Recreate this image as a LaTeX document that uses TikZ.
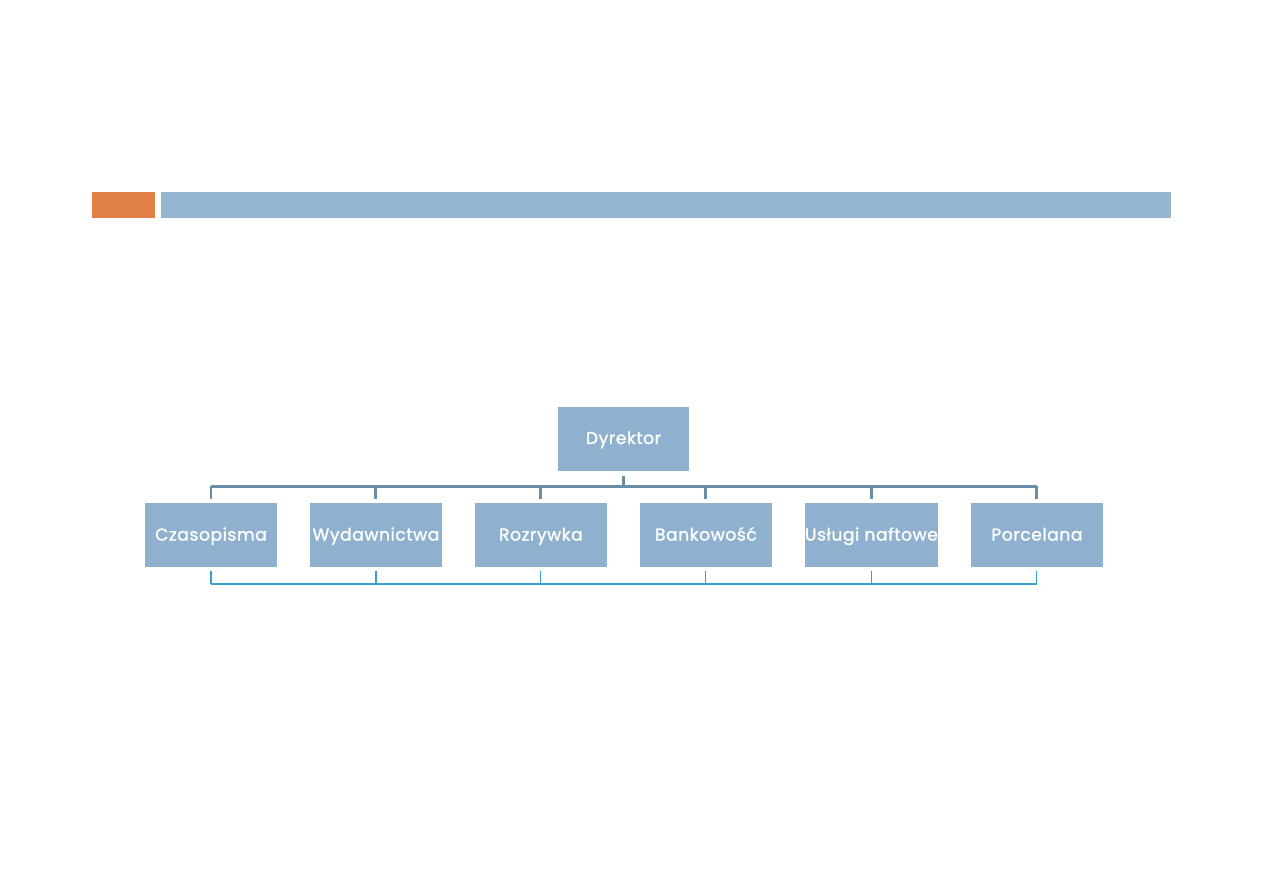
\documentclass[tikz,border=0pt]{standalone}
\usepackage{fontspec}
\setmainfont{Poppins}
\usetikzlibrary{positioning}
\definecolor{barorange}{HTML}{E08046}
\definecolor{barblue}{HTML}{94B6D2}
\definecolor{boxfill}{HTML}{8FB1CF}
\definecolor{topline}{HTML}{6A8EA8}
\definecolor{botline}{HTML}{3A9FC9}
\tikzset{
  unit/.style={
    fill=boxfill,
    text=white,
    inner sep=0pt,
    outer sep=0pt,
    minimum width=2.64cm,
    minimum height=1.28cm,
    text height=1.5ex,
    text depth=0.35ex,
    align=center,
    font=\fontsize{9.8}{11}\selectfont\addfontfeatures{LetterSpace=3,FakeBold=1.2},
  },
  link/.style={
    draw=topline,
    line width=1.7pt,
  },
  under/.style={
    draw=botline,
    line width=0.6pt,
  },
}
\begin{document}
\begin{tikzpicture}[x=0.02cm,y=-0.02cm]
  \useasboundingbox (0,0) rectangle (1263,893);
  % header bars
  \fill[barorange] (92,192) rectangle (155,218);
  \fill[barblue] (161,192) rectangle (1171,218);

  \node [unit] (dyr) at (623.5,438.5) {Dyrektor};
  \node [unit] (czas) at (211,535) {Czasopisma};
  \node [unit, right=0.66cm of czas] (wyd) {Wydawnictwa};
  \node [unit, right=0.66cm of wyd] (rozr) {Rozrywka};
  \node [unit, right=0.66cm of rozr] (bank) {Bankowość};
  \node [unit, right=0.66cm of bank] (nafta) {Usługi naftowe};
  \node [unit, right=0.66cm of nafta] (porc) {Porcelana};

  \coordinate (bus) at (623.5,486);
  \coordinate (lowbus) at (623.5,584);

  % top connectors
  \draw[link] ([yshift=-3pt]dyr.south) -- (bus);
  \draw[link] (czas.north |- bus) -- (porc.north |- bus);
  \foreach \n in {czas,wyd,rozr,bank,nafta,porc}
    \draw[link] (\n.north |- bus) -- ([yshift=2.5pt]\n.north);

  % bottom connectors
  \draw[under] (czas.south |- lowbus) -- (porc.south |- lowbus);
  \foreach \n in {czas,wyd,rozr,bank,nafta,porc}
    \draw[under] ([yshift=-2pt]\n.south) -- (\n.south |- lowbus);
\end{tikzpicture}
\end{document}
